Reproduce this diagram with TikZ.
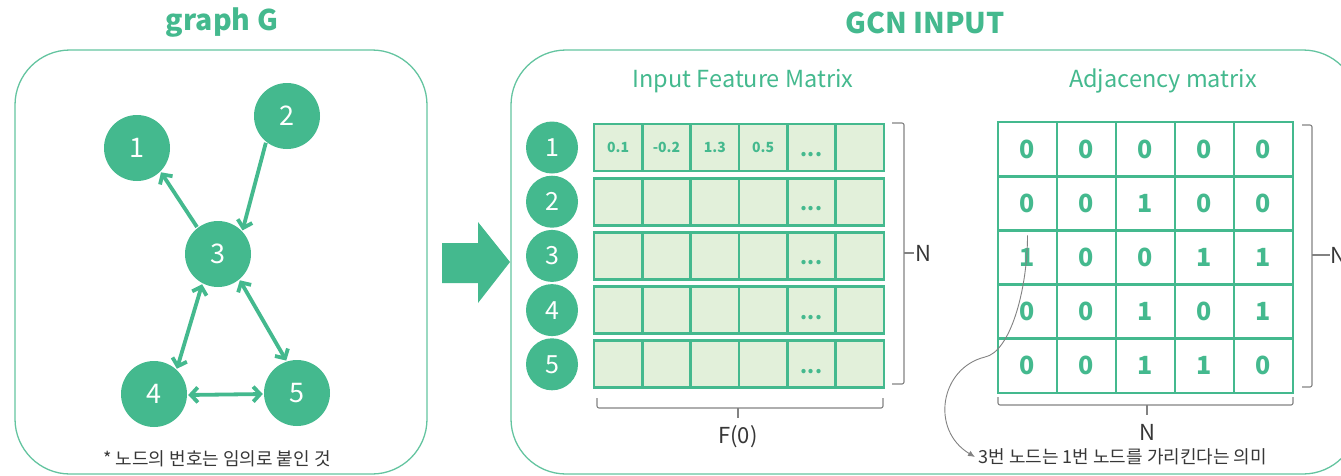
\documentclass[tikz,border=0pt]{standalone}
\usepackage{fontspec}
\setmainfont{Noto Sans CJK KR}
\usetikzlibrary{arrows.meta}
\definecolor{gr}{RGB}{68,185,142}
\definecolor{lgr}{RGB}{226,240,218}
\definecolor{boxg}{RGB}{100,196,160}
\definecolor{gry}{RGB}{130,130,130}
\definecolor{dtxt}{RGB}{55,55,55}
\tikzset{
  panel/.style={draw=boxg,line width=1.3pt,rounded corners=55pt},
  title/.style={text=gr,font=\fontsize{28.5}{30}\selectfont\bfseries},
  subtitle/.style={text=gr,font=\fontsize{23.5}{26}\selectfont},
  gnode/.style={circle,fill=gr,text=white,minimum size=66pt,inner sep=0pt,font=\fontsize{27}{30}\selectfont},
  rnode/.style={circle,fill=gr,text=white,minimum size=52pt,inner sep=0pt,font=\fontsize{25}{28}\selectfont},
  edge/.style={draw=gr,line width=3.8pt,shorten <=1pt,shorten >=1pt},
  fcell/.style={draw=gr,fill=lgr,line width=2.8pt,minimum width=48.33pt,minimum height=47pt,inner sep=0pt},
  acell/.style={draw=gr,fill=white,line width=2.8pt,minimum width=59pt,minimum height=54.2pt,inner sep=0pt,
     text=gr,font=\fontsize{25}{28}\selectfont\bfseries},
  brk/.style={draw=gry,line width=1.1pt,rounded corners=2pt},
  lbl/.style={text=dtxt,font=\fontsize{22}{24}\selectfont},
  note/.style={text=dtxt,font=\fontsize{18}{20}\selectfont},
  dots/.style={text=gr,font=\fontsize{20}{22}\selectfont\bfseries,anchor=base,inner sep=0pt},
  fval/.style={text=gr,font=\fontsize{14}{16}\selectfont\bfseries}
}
\begin{document}
\begin{tikzpicture}[x=1pt,y=-1pt]
\useasboundingbox (0,0) rectangle (1341,475);
% panels
\draw[panel] (15,50) rectangle (427,474);
\draw[panel] (511,50) rectangle (1358,474);
\node[title] (tg) at (222,23) {graph G};
\node[title] (tgcn) at (925,23) {GCN INPUT};
% graph
\node[gnode] (n1) at (137,148) {1};
\node[gnode] (n2) at (287,116) {2};
\node[gnode] (n3) at (218,254) {3};
\node[gnode] (n4) at (154,394) {4};
\node[gnode] (n5) at (297,393) {5};
\draw[edge,-{Straight Barb[length=7pt,width=15pt]}] (n3.128) -- (n1.-45);
\draw[edge,-{Straight Barb[length=7pt,width=15pt]}] (n2.231) -- (n3.43);
\draw[edge,{Straight Barb[length=7pt,width=15pt]}-{Straight Barb[length=7pt,width=15pt]}] (n3.242) -- (n4.47);
\draw[edge,{Straight Barb[length=7pt,width=15pt]}-{Straight Barb[length=7pt,width=15pt]}] (n3.-50) -- (n5.108);
\draw[edge,{Straight Barb[length=7pt,width=15pt]}-{Straight Barb[length=7pt,width=15pt]}] ([yshift=-1pt]n4.east) -- ([yshift=-1pt]n5.west);
\node[note] (gnote) at (217,459) {* 노드의 번호는 임의로 붙인 것};
% big arrow
\fill[gr] (442,243) -- (478,243) -- (478,222) -- (510,262) -- (478,303) -- (478,283) -- (442,283) -- cycle;
% feature matrix
\node[subtitle] (tf) at (743,81) {Input Feature Matrix};
\foreach \r in {1,...,5}{
  \node[rnode] (r\r) at (552,{147.5+54.2*(\r-1)}) {\r};
  \foreach \c in {1,...,6}{
    \node[fcell] (f-\r-\c) at ({594+48.33*(\c-0.5)},{147.5+54.2*(\r-1)}) {};
  }
  \node[dots] at ([yshift=-9pt]f-\r-5.center) {...};
}
\node[fval] at (f-1-1) {0.1};
\node[fval] at (f-1-2) {-0.2};
\node[fval] at (f-1-3) {1.3};
\node[fval] at (f-1-4) {0.5};
% feature braces
\draw[brk] (892,123) -- (904,123) -- (904,384) -- (892,384);
\draw[brk] (904,253) -- (914,253);
\node[lbl,anchor=west,inner sep=1pt] (fN) at (914,253) {N};
\draw[brk] (597,398) -- (597,408) -- (883,408) -- (883,398);
\draw[brk] (738,408) -- (738,418);
\node[lbl] (fF) at (738,437) {F(0)};
% adjacency matrix
\node[subtitle] (ta) at (1163,81) {Adjacency matrix};
\foreach \r/\vals in {1/{0,0,0,0,0},2/{0,0,1,0,0},3/{1,0,0,1,1},4/{0,0,1,0,1},5/{0,0,1,1,0}}{
  \foreach \v [count=\c] in \vals {
    \node[acell] (a-\r-\c) at ({998+59*(\c-0.5)},{149+54.2*(\r-1)}) {\v};
  }
}
\draw[brk] (1302,125) -- (1312,125) -- (1312,387) -- (1302,387);
\draw[brk] (1312,255) -- (1330,255);
\node[lbl,anchor=west,inner sep=1pt] (aN) at (1329,255) {N};
\draw[brk] (998,397) -- (998,405) -- (1293,405) -- (1293,397);
\draw[brk] (1147,405) -- (1147,415);
\node[lbl] (aN2) at (1147,432) {N};
% annotation
\node[note,anchor=west] (anote) at (975,457) {3번 노드는 1번 노드를 가리킨다는 의미};
\coordinate (astart) at ([yshift=22pt]a-3-1.center);
\draw[gry,line width=0.9pt,-{Latex[length=7pt,width=6pt]}] (astart) .. controls +(0,55) and (1010,352) .. (985,357) .. controls (940,368) and (930,430) .. (anote.west);
\end{tikzpicture}
\end{document}
